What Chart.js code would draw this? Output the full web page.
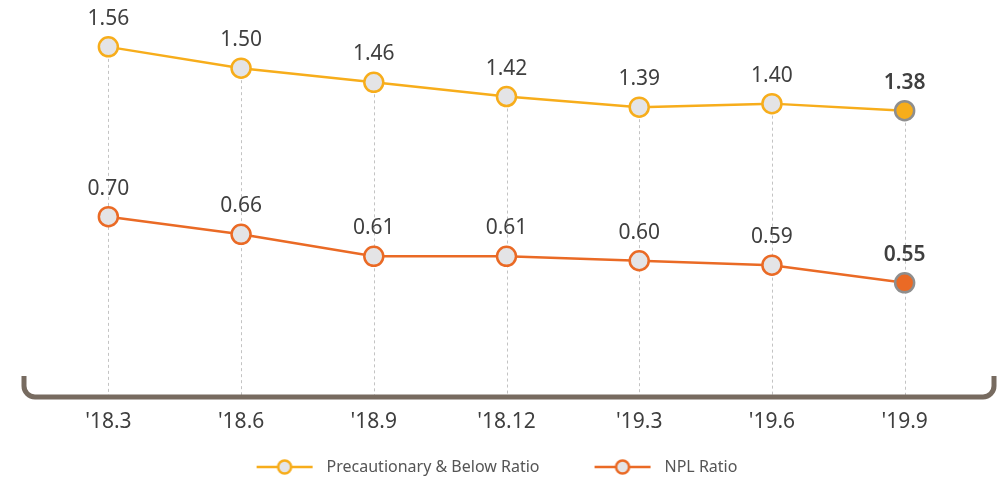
<!DOCTYPE html>
<html>
<head>
<meta charset="utf-8">
<script src="https://cdn.jsdelivr.net/npm/chart.js@4.4.1/dist/chart.umd.min.js"></script>
<style>
  html, body { margin: 0; padding: 0; background: #fff; }
  #wrap { width: 1004px; height: 477px; }
</style>
</head>
<body>
<div id="wrap"><canvas id="line-chart" width="1004" height="477"></canvas></div>
<script>
// data
var periods = ["'18.3", "'18.6", "'18.9", "'18.12", "'19.3", "'19.6", "'19.9"];
var precautionary = [1.56, 1.50, 1.46, 1.42, 1.39, 1.40, 1.38];
var npl = [0.70, 0.66, 0.61, 0.61, 0.60, 0.59, 0.55];

var amber = '#f7ad1b';
var orange = '#ea6a25';
var dotGrey = '#e4e4e6';
var lastRing = '#8e8e8e';
var fontName = "'Noto Sans', 'Open Sans', sans-serif";

function pointFills(arr, main) {
  return arr.map(function (v, i) { return i === arr.length - 1 ? main : dotGrey; });
}
function pointRings(arr, main) {
  return arr.map(function (v, i) { return i === arr.length - 1 ? lastRing : main; });
}

// line + circle used as legend marker (blank on the left keeps items apart)
function legendMarker(color) {
  var c = document.createElement('canvas');
  c.width = 101; c.height = 20;
  var g = c.getContext('2d');
  g.strokeStyle = color; g.lineWidth = 2.5;
  g.beginPath(); g.moveTo(39, 10); g.lineTo(95, 10); g.stroke();
  g.beginPath(); g.arc(67, 10, 6.5, 0, Math.PI * 2);
  g.fillStyle = dotGrey; g.fill(); g.stroke();
  return c;
}

// dashed guides, bracket and value labels
var decorations = {
  id: 'decorations',
  afterLayout: function (chart) {
    // legend sits a little left of centre (marker blank compensation)
    if (chart.legend) { chart.legend.left -= 29; chart.legend.right -= 29; }
  },
  beforeDatasetsDraw: function (chart) {
    var ctx = chart.ctx, area = chart.chartArea;
    var tops = chart.getDatasetMeta(0).data;
    ctx.save();
    ctx.strokeStyle = '#c3c3c3';
    ctx.lineWidth = 1;
    ctx.setLineDash([3, 3]);
    tops.forEach(function (p) {
      var x = Math.round(p.x) + 0.5;
      ctx.beginPath(); ctx.moveTo(x, p.y); ctx.lineTo(x, area.bottom); ctx.stroke();
    });
    ctx.setLineDash([]);
    // bracket under the plot
    var y = area.bottom + 2, l = area.left - 18, r = area.right + 23, rad = 11;
    ctx.strokeStyle = '#776b60';
    ctx.lineWidth = 5;
    ctx.beginPath();
    ctx.moveTo(l, y - 21);
    ctx.arcTo(l, y, l + rad, y, rad);
    ctx.lineTo(r - rad, y);
    ctx.arcTo(r, y, r, y - rad, rad);
    ctx.lineTo(r, y - 21);
    ctx.stroke();
    ctx.restore();
  },
  afterDatasetsDraw: function (chart) {
    var ctx = chart.ctx;
    ctx.save();
    ctx.fillStyle = '#3f3f3f';
    ctx.textAlign = 'center';
    ctx.textBaseline = 'middle';
    chart.data.datasets.forEach(function (ds, di) {
      var pts = chart.getDatasetMeta(di).data;
      pts.forEach(function (p, i) {
        var last = i === pts.length - 1;
        ctx.font = (last ? '600 ' : '400 ') + '21px ' + fontName;
        ctx.fillText(ds.data[i].toFixed(2), p.x, p.y - 28);
      });
    });
    ctx.restore();
  }
};

var chart = new Chart(document.getElementById('line-chart'), {
  type: 'line',
  data: {
    labels: periods,
    datasets: [{
      label: 'Precautionary & Below Ratio',
      data: precautionary,
      yAxisID: 'y',
      borderColor: amber,
      borderWidth: 2.5,
      pointRadius: 9.5,
      pointBorderWidth: 2.5,
      pointBackgroundColor: pointFills(precautionary, amber),
      pointBorderColor: pointRings(precautionary, amber),
      fill: false,
      tension: 0
    }, {
      label: 'NPL Ratio',
      data: npl,
      yAxisID: 'y2',
      borderColor: orange,
      borderWidth: 2.5,
      pointRadius: 9.5,
      pointBorderWidth: 2.5,
      pointBackgroundColor: pointFills(npl, orange),
      pointBorderColor: pointRings(npl, orange),
      fill: false,
      tension: 0
    }]
  },
  options: {
    responsive: false,
    animation: false,
    layout: { padding: { left: 42, right: 33, top: 10, bottom: -8 } },
    scales: {
      x: {
        offset: true,
        grid: { display: false },
        border: { display: false },
        ticks: { color: '#3f3f3f', font: { family: fontName, size: 21 }, padding: 6 },
        afterFit: function (scale) { scale.height = 48; }
      },
      y: { display: false, min: 0.5786, max: 1.6583 },
      y2: { display: false, min: 0.2957, max: 1.1639 }
    },
    plugins: {
      tooltip: { enabled: false },
      legend: {
        position: 'bottom',
        labels: {
          usePointStyle: true,
          pointStyleWidth: 101,
          padding: 16,
          color: '#555',
          font: { family: fontName, size: 16 },
          generateLabels: function (ch) {
            return ch.data.datasets.map(function (ds, i) {
              return {
                text: ds.label,
                pointStyle: legendMarker(ds.borderColor),
                fillStyle: ds.borderColor,
                strokeStyle: ds.borderColor,
                lineWidth: 0,
                hidden: false,
                datasetIndex: i,
                fontColor: '#555'
              };
            });
          }
        }
      }
    }
  },
  plugins: [decorations]
});
</script>
</body>
</html>
